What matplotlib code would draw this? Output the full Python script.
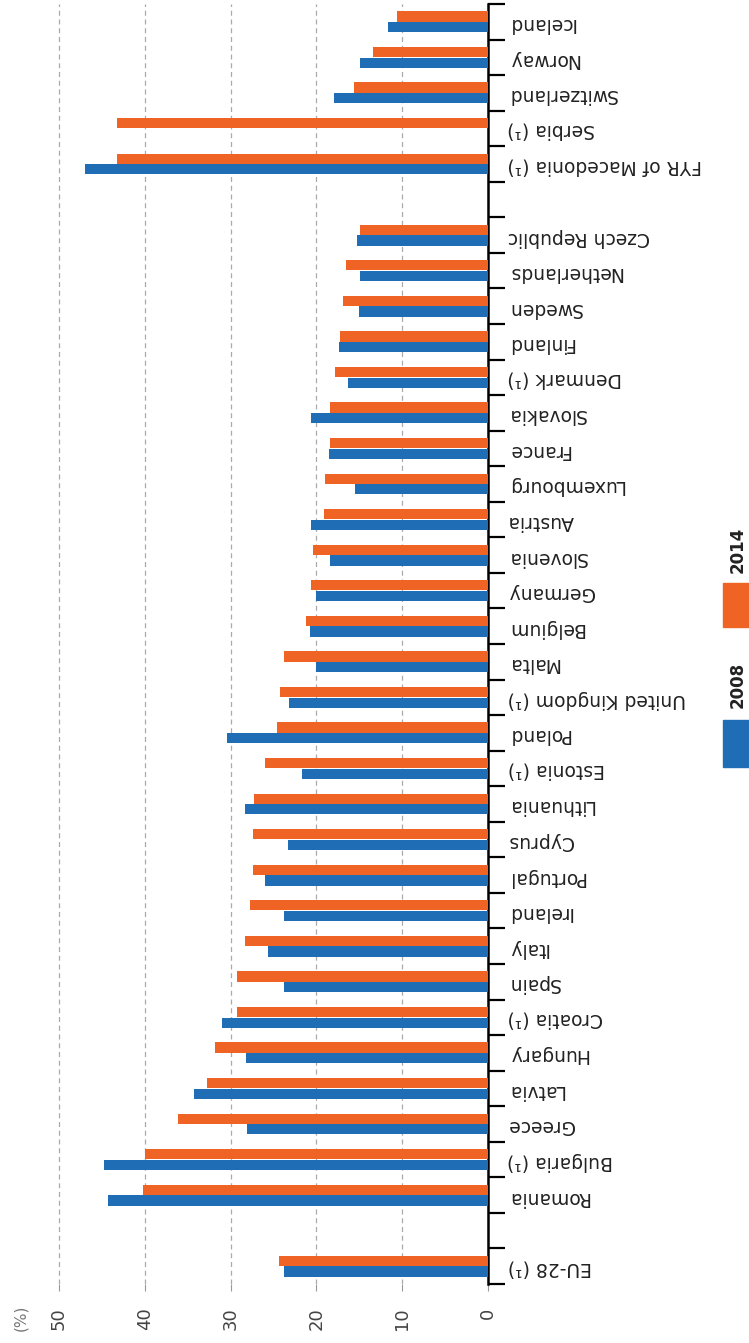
import numpy as np
import matplotlib
matplotlib.use('Agg')
import matplotlib.pyplot as plt
from matplotlib.patches import Rectangle

# Data, bottom to top (EU-28 first, gaps are empty slots)
categories = ['EU-28 (¹)', '', 'Romania', 'Bulgaria (¹)', 'Greece', 'Latvia', 'Hungary',
              'Croatia (¹)', 'Spain', 'Italy', 'Ireland', 'Portugal', 'Cyprus', 'Lithuania',
              'Estonia (¹)', 'Poland', 'United Kingdom (¹)', 'Malta', 'Belgium', 'Germany',
              'Slovenia', 'Austria', 'Luxembourg', 'France', 'Slovakia', 'Denmark (¹)',
              'Finland', 'Sweden', 'Netherlands', 'Czech Republic', '',
              'FYR of Macedonia (¹)', 'Serbia (¹)', 'Switzerland', 'Norway', 'Iceland']
nan = np.nan
values_2008 = [23.8, nan, 44.3, 44.8, 28.1, 34.3, 28.2, 31.0, 23.8, 25.6, 23.8, 26.0, 23.3,
               28.3, 21.7, 30.4, 23.2, 20.0, 20.8, 20.0, 18.4, 20.6, 15.5, 18.5, 20.6, 16.3,
               17.4, 15.0, 14.9, 15.3, nan, 47.0, nan, 18.0, 14.9, 11.7]
values_2014 = [24.4, nan, 40.2, 40.0, 36.1, 32.8, 31.8, 29.3, 29.2, 28.3, 27.7, 27.4, 27.4,
               27.3, 26.0, 24.6, 24.2, 23.8, 21.2, 20.6, 20.4, 19.1, 19.0, 18.4, 18.4, 17.8,
               17.2, 16.9, 16.5, 14.9, nan, 43.2, 43.2, 15.6, 13.4, 10.6]
value_ticks = [0, 10, 20, 30, 40, 50]

blue = '#1f6db5'
orange = '#ef6424'

W, H = 749, 1343
fig = plt.figure(figsize=(W / 100, H / 100), dpi=100)
ax = fig.add_axes([41.8 / W, (H - 1284) / H, (488 - 41.8) / W, 1280 / H])

y = np.arange(len(categories))
ax.barh(y + 0.15, values_2014, height=0.29, color=orange, zorder=3)
ax.barh(y - 0.15, values_2008, height=0.29, color=blue, zorder=3)

ax.set_xlim(52, 0)
ax.set_ylim(-0.5, len(categories) - 0.5)

# value axis (bottom, rotated labels)
ax.set_xticks(value_ticks)
ax.set_xticklabels([str(v) for v in value_ticks], rotation=90, fontsize=13, color='#444444')
ax.tick_params(axis='x', length=5, width=0.8, color='#999999', pad=12)
ax.grid(axis='x', linestyle=(0, (4, 3)), color='#aaaaaa', linewidth=0.9, zorder=0)
ax.set_axisbelow(True)

# category axis on the right
ax.yaxis.tick_right()
ax.set_yticks(np.arange(-0.5, len(categories), 1))
ax.set_yticklabels([])
ax.set_yticks(y, minor=True)
ax.set_yticklabels(categories, minor=True, rotation=180, fontsize=13.5, color='#222222')
ax.tick_params(axis='y', which='major', length=12, width=1.6, color='black', direction='out')
ax.tick_params(axis='y', which='minor', length=0, pad=14)

for s in ['top', 'left', 'bottom']:
    ax.spines[s].set_visible(False)
ax.spines['right'].set_linewidth(1.8)
ax.spines['right'].set_color('black')

# unit label
fig.text(21 / W, 1 - 1318 / H, '(%)', rotation=90, ha='center', va='center',
         fontsize=11, color='#777777')

# legend at right edge
fig.patches.append(Rectangle((723 / W, 1 - 627 / H), 26 / W, 44 / H,
                             transform=fig.transFigure, color=orange))
fig.patches.append(Rectangle((723 / W, 1 - 767 / H), 26 / W, 47 / H,
                             transform=fig.transFigure, color=blue))
fig.text(737.5 / W, 1 - 550 / H, '2014', rotation=90, ha='center', va='center',
         fontsize=12, fontweight='bold', color='#222222')
fig.text(737.5 / W, 1 - 685 / H, '2008', rotation=90, ha='center', va='center',
         fontsize=12, fontweight='bold', color='#222222')

fig.savefig('out.png', dpi=100)
